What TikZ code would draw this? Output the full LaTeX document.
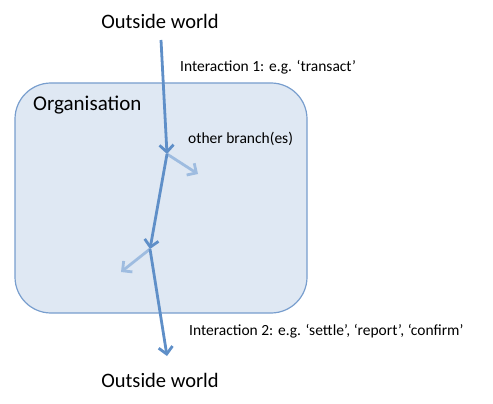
\documentclass[tikz,border=0pt]{standalone}
\usepackage{fontspec}
\setmainfont{Carlito}
\usetikzlibrary{arrows.meta}
\definecolor{flowblue}{RGB}{95,143,200}
\definecolor{branchblue}{RGB}{158,188,224}
\definecolor{orgfill}{RGB}{223,232,243}
\definecolor{orgline}{RGB}{120,158,206}

\begin{document}
\begin{tikzpicture}[x=1pt,y=-1pt,
    flow/.style={flowblue,line width=2.8pt,-{Straight Barb[length=7pt,width=14pt,line width=2.8pt]}},
    branch/.style={branchblue,line width=2.8pt,-{Straight Barb[length=7pt,width=14pt,line width=2.8pt]}},
    world/.style={font=\fontsize{20.5}{24}\selectfont,inner sep=0pt},
    note/.style={font=\fontsize{15.5}{18}\selectfont,anchor=west,inner sep=0pt}]
        \useasboundingbox (0,0) rectangle (493,404);
        \draw[orgline,fill=orgfill,line width=1.2pt,rounded corners=36pt] (15,83) rectangle (307,313);
        \node[font=\fontsize{21}{24}\selectfont,anchor=west,inner sep=0pt] (org) at (33,105) {Organisation};
        \node[world] (top) at (160,21) {Outside world};
        \node[world] (bottom) at (160,380) {Outside world};
        \node[note] (int1) at (180,67) {Interaction 1: e.g. ‘transact’};
        \node[note] (other) at (188,139) {other branch(es)};
        \node[note] (int2) at (189,331) {Interaction 2: e.g. ‘settle’, ‘report’, ‘confirm’};
        \coordinate (start) at (161,40);
        \coordinate (j1) at (167,154);
        \coordinate (j2) at (150,249);
        \coordinate (stop) at (167,356);
        \coordinate (b1) at (198,174);
        \coordinate (b2) at (121,272);
        % branches under the main line
        \draw[branch] (j1) -- (b1);
        \draw[branch] (j2) -- (b2);
        \draw[flow] (start) -- (j1);
        \draw[flow] (j1) -- (j2);
        \draw[flow] (j2) -- (stop);
      \end{tikzpicture}
\end{document}
